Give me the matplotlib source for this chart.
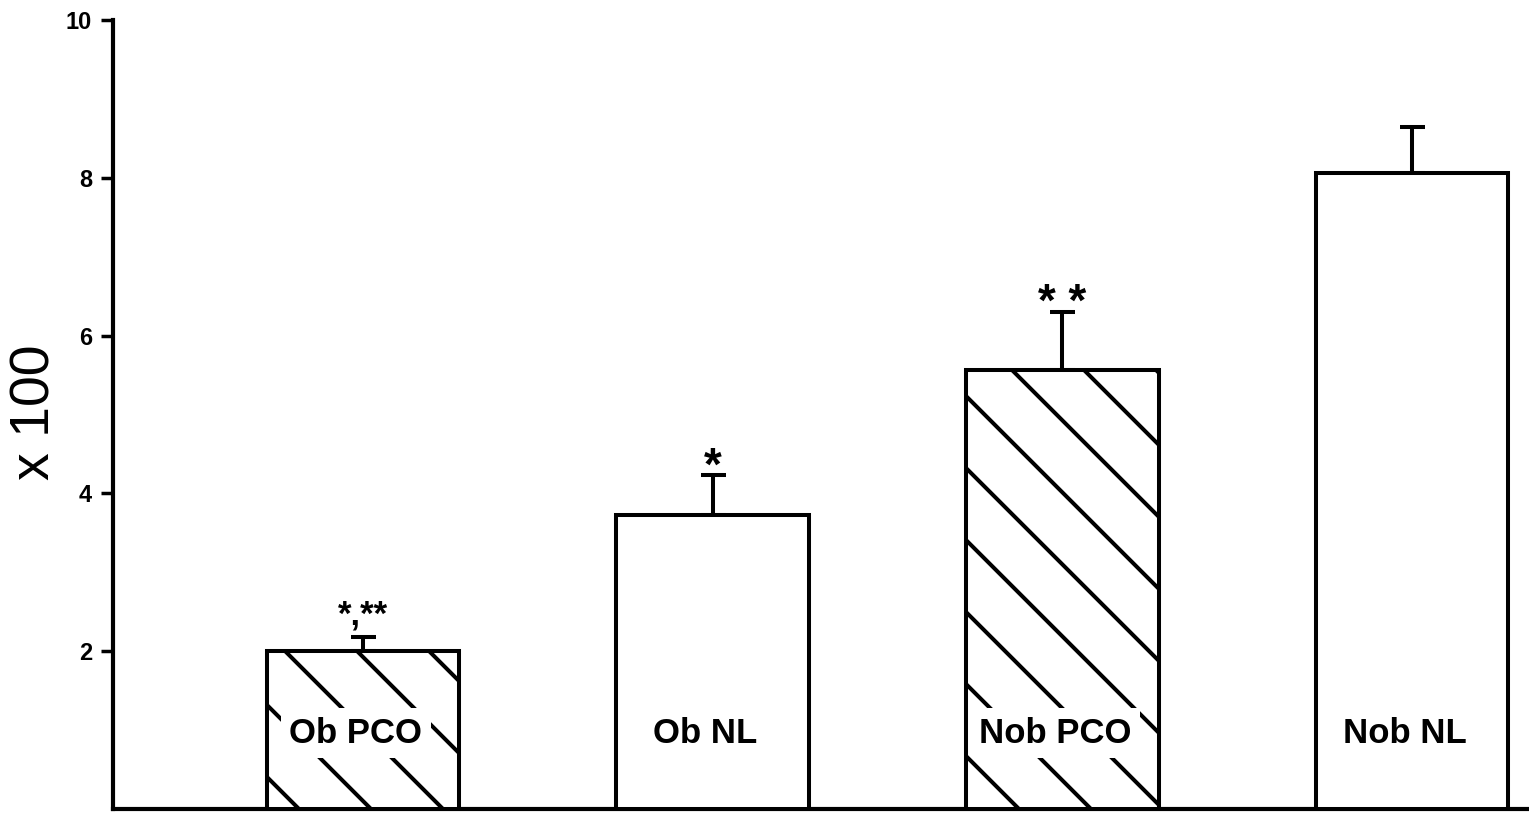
import matplotlib
matplotlib.use("Agg")
import matplotlib.pyplot as plt
import numpy as np

# values (units x 100)
groups = ["Ob PCO", "Ob NL", "Nob PCO", "Nob NL"]
means = [2.0, 3.73, 5.56, 8.06]
sems = [0.18, 0.50, 0.74, 0.58]
hatched = [True, False, True, False]
marks = ["*,**", "*", "**", ""]
yticks = [2, 4, 6, 8, 10]

plt.rcParams['font.family'] = ['Liberation Sans', 'DejaVu Sans']

fig = plt.figure(figsize=(15.29, 8.13), dpi=100)
ax = fig.add_axes([113 / 1529, 4 / 813, 1 - 113 / 1529, 789 / 813])

x = np.arange(1, len(groups) + 1)
lw = 2.9
bars = ax.bar(x, means, width=0.55, color="white", edgecolor="black",
              linewidth=lw, zorder=3)
ax.errorbar(x, means, yerr=[np.zeros(len(sems)), sems], fmt="none",
            ecolor="black", elinewidth=lw, capsize=9, capthick=lw, zorder=2)

ax.set_xlim(0.286, 4.334)
ax.set_ylim(0, 10)

# sparse hand-drawn style hatching, laid out in pixel space (45 deg)
tr = ax.transData
inv = tr.inverted()
step = 72
for b, h in zip(bars, hatched):
    if not h:
        continue
    (x0, y0), (x1, y1) = tr.transform([(b.get_x(), 0),
                                      (b.get_x() + b.get_width(), b.get_height())])
    c_lo = (x0 + y0) - step
    c_hi = (x1 + y1) + step
    c = np.floor(c_lo / step) * step + 15
    while c < c_hi:
        p = inv.transform([(x0 - 400, c - x0 + 400), (x1 + 400, c - x1 - 400)])
        ln, = ax.plot(p[:, 0], p[:, 1], color="black", lw=lw,
                      solid_capstyle="butt", zorder=3.5)
        ln.set_clip_path(b)
        c += step

for xi, g in zip(x, groups):
    ax.text(xi - 0.02, 0.96, g, ha="center", va="center", fontsize=25,
            fontweight="bold", zorder=5,
            bbox=dict(facecolor="white", edgecolor="none", pad=6))

for xi, m, s, t in zip(x, means, sems, marks):
    if not t:
        continue
    if "," in t:
        ax.annotate(t, (xi, m + s), xytext=(0, 9), textcoords="offset points",
                    ha="center", va="baseline", fontsize=25,
                    fontweight="bold", zorder=5)
    else:
        ax.annotate(" ".join(t), (xi, m + s), xytext=(0, -3),
                    textcoords="offset points", ha="center", va="baseline",
                    fontsize=33, fontweight="bold", zorder=5)

for side in ["top", "right"]:
    ax.spines[side].set_visible(False)
for side in ["left", "bottom"]:
    ax.spines[side].set_linewidth(3)
ax.set_xticks([])
ax.set_yticks(yticks)
ax.set_yticklabels([str(v) for v in yticks], fontsize=17, fontweight="bold")
ax.tick_params(axis="y", length=9, width=2.5, pad=6)

fig.text(35 / 1529, 1 - 412 / 813, "x 100", rotation=90, ha="center",
         va="center", fontsize=40)

fig.savefig("out.png", dpi=100)
